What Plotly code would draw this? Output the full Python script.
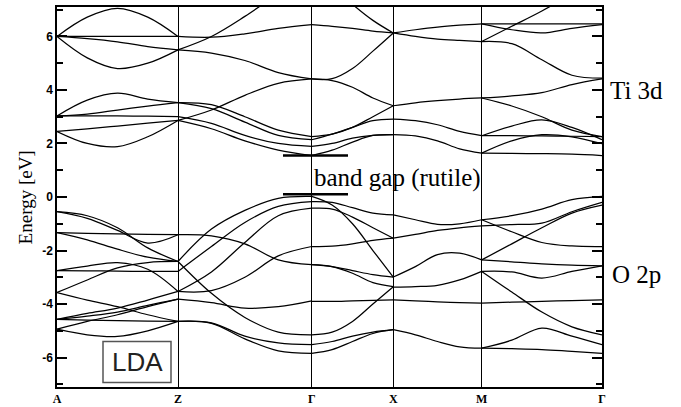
import plotly.graph_objects as go

# ---------------- data ----------------
k_labels = ["A", "Z", "Γ", "X", "M", "Γ"]
k_points = [0, 121, 254.7, 336.3, 424.7, 545]

y_tick_vals = [-6, -4, -2, 0, 2, 4, 6]
y_tick_text = ["-6", "-4", "-2", "0", "2", "4", "6"]

# energies (eV) sampled at equally spaced points along each path segment
bands_A_Z = [
    [6.0, 6.72, 7.05, 6.72, 6.0],
    [6.0, 6.0, 6.0, 6.0, 6.0],
    [6.0, 5.92, 5.8, 5.62, 5.5],
    [6.0, 5.2, 4.8, 5.0, 5.5],
    [3.03, 3.62, 3.88, 3.66, 3.53],
    [3.03, 3.1, 3.25, 3.4, 3.53],
    [3.03, 3.03, 3.03, 3.02, 3.0],
    [2.45, 2.55, 2.65, 2.76, 2.86],
    [2.45, 2.0, 1.88, 2.25, 2.86],
    [-0.55, -0.8, -1.25, -1.72, -1.41],
    [-0.55, -0.7, -1.15, -1.9, -2.41],
    [-1.33, -1.36, -1.38, -1.40, -1.41],
    [-1.33, -1.6, -1.95, -2.25, -2.41],
    [-2.75, -2.76, -2.77, -2.78, -2.78],
    [-2.75, -2.58, -2.45, -2.7, -3.53],
    [-3.57, -3.1, -2.65, -2.45, -2.41],
    [-3.57, -3.85, -4.1, -4.4, -4.65],
    [-4.57, -4.35, -4.15, -3.85, -3.53],
    [-4.57, -4.45, -4.3, -4.05, -3.82],
    [-4.94, -4.65, -4.4, -4.1, -3.82],
    [-4.94, -5.15, -5.21, -5.0, -4.65],
    [-4.57, -4.6, -4.62, -4.64, -4.65],
]

bands_Z_G = [
    [6.0, 5.97, 6.1, 6.3, 6.44],
    [5.5, 6.0, 6.75, 7.6, 8.4],
    [5.5, 5.38, 5.1, 4.65, 4.41],
    [2.86, 3.25, 3.8, 4.25, 4.41],
    [3.53, 3.45, 3.0, 2.5, 2.26],
    [3.53, 3.3, 2.8, 2.3, 2.14],
    [3.0, 2.75, 2.3, 2.0, 1.89],
    [2.86, 2.55, 2.1, 1.75, 1.55],
    [-1.41, -1.45, -1.75, -2.35, -2.53],
    [-2.41, -1.2, -0.5, -0.05, 0.02],
    [-2.78, -1.85, -0.95, -0.35, -0.17],
    [-3.53, -2.8, -1.7, -0.7, -0.42],
    [-3.53, -3.5, -3.0, -2.2, -1.85],
    [-2.41, -3.6, -4.5, -5.05, -5.15],
    [-3.82, -3.95, -4.15, -4.1, -3.88],
    [-4.65, -4.7, -5.2, -5.45, -5.52],
    [-4.65, -4.72, -5.3, -5.75, -5.84],
]

bands_G_X = [
    [6.44, 6.38, 6.3, 6.2, 6.13],
    [8.4, 7.9, 7.2, 6.6, 6.13],
    [4.41, 4.42, 4.8, 5.45, 6.13],
    [4.41, 4.35, 4.1, 3.7, 3.41],
    [2.26, 2.35, 2.6, 3.0, 3.41],
    [2.14, 2.35, 2.6, 2.85, 2.91],
    [1.89, 2.0, 2.2, 2.3, 2.33],
    [1.55, 1.75, 2.05, 2.3, 2.33],
    [0.02, -0.3, -1.0, -2.0, -2.99],
    [-0.17, -0.2, -0.4, -0.6, -0.67],
    [-0.42, -0.45, -0.75, -1.15, -1.54],
    [-1.85, -1.84, -1.75, -1.62, -1.54],
    [-2.53, -2.6, -2.85, -3.2, -3.35],
    [-2.53, -2.6, -2.75, -2.9, -2.99],
    [-3.9, -3.9, -3.88, -3.86, -3.84],
    [-5.15, -5.05, -4.65, -4.0, -3.35],
    [-5.52, -5.4, -5.2, -5.05, -4.96],
    [-5.84, -5.7, -5.4, -5.1, -4.96],
]

bands_X_M = [
    [6.13, 6.25, 6.35, 6.42, 6.47],
    [6.13, 6.0, 5.9, 5.85, 5.81],
    [3.41, 3.52, 3.6, 3.66, 3.7],
    [2.91, 2.85, 2.7, 2.45, 2.29],
    [2.33, 2.28, 2.1, 1.8, 1.64],
    [-0.67, -0.85, -1.02, -1.0, -0.85],
    [-1.54, -1.4, -1.25, -1.15, -1.08],
    [-2.99, -2.6, -2.15, -2.1, -2.35],
    [-3.37, -3.35, -3.3, -3.1, -2.78],
    [-3.84, -3.88, -3.92, -3.95, -3.97],
    [-4.96, -5.15, -5.4, -5.6, -5.65],
]

bands_M_G = [
    [6.47, 6.47, 6.47, 6.47, 6.47],
    [6.47, 6.25, 6.13, 6.3, 6.44],
    [5.81, 6.38, 6.95, 7.6, 8.3],
    [5.81, 5.73, 5.13, 4.55, 4.44],
    [3.7, 3.78, 3.9, 4.2, 4.41],
    [3.7, 3.4, 3.0, 2.5, 2.26],
    [2.29, 2.65, 2.88, 2.6, 2.14],
    [2.29, 2.29, 2.28, 2.27, 2.26],
    [1.64, 2.1, 2.33, 2.25, 1.99],
    [1.64, 1.63, 1.62, 1.6, 1.55],
    [-0.85, -0.7, -0.45, -0.1, 0.02],
    [-0.85, -1.3, -1.7, -1.83, -1.85],
    [-1.08, -1.03, -0.98, -0.55, -0.2],
    [-2.35, -1.75, -1.15, -0.6, -0.3],
    [-2.35, -2.42, -2.5, -2.55, -2.57],
    [-2.78, -2.8, -3.03, -2.78, -2.57],
    [-2.78, -3.55, -4.3, -4.85, -5.15],
    [-3.97, -3.93, -3.9, -3.87, -3.84],
    [-5.65, -5.35, -4.9, -5.2, -5.52],
    [-5.65, -5.67, -5.7, -5.77, -5.84],
]

segments = [bands_A_Z, bands_Z_G, bands_G_X, bands_X_M, bands_M_G]

gap_levels = [0.1, 1.55]        # eV, band-gap markers at Gamma
gap_bar_k = [226, 291]          # extent of the markers along k

# ---------------- figure ----------------
fig = go.Figure()

for i, bands in enumerate(segments):
    k0, k1 = k_points[i], k_points[i + 1]
    xs, ys = [], []
    for b in bands:
        n = len(b)
        xs += [k0 + (k1 - k0) * j / (n - 1) for j in range(n)] + [None]
        ys += list(b) + [None]
    fig.add_trace(go.Scatter(
        x=xs, y=ys, mode="lines",
        line=dict(color="black", width=1.25, shape="spline", smoothing=1.0),
        hoverinfo="skip", showlegend=False))

gx, gy = [], []
for lvl in gap_levels:
    gx += [gap_bar_k[0], gap_bar_k[1], None]
    gy += [lvl, lvl, None]
fig.add_trace(go.Scatter(x=gx, y=gy, mode="lines",
                         line=dict(color="black", width=2.5),
                         hoverinfo="skip", showlegend=False))

serif = "Liberation Serif"
sans = "Liberation Sans"

fig.update_layout(
    width=681, height=407,
    margin=dict(l=57, r=79, t=7, b=20, autoexpand=False),
    paper_bgcolor="white", plot_bgcolor="white",
    showlegend=False,
    xaxis=dict(
        range=[k_points[0], k_points[-1]],
        tickmode="array", tickvals=k_points, ticktext=k_labels,
        ticks="", showgrid=True, gridcolor="black", gridwidth=1,
        showline=True, linecolor="black", linewidth=1.5, mirror=True,
        zeroline=False, automargin=False, ticklabelstandoff=0,
        tickfont=dict(family=serif, size=12, color="black", weight="bold"),
    ),
    yaxis=dict(
        range=[-7.1, 7.1], automargin=False,
        tickmode="array", tickvals=y_tick_vals, ticktext=y_tick_text,
        ticks="inside", ticklen=10, tickwidth=1.5, tickcolor="black",
        minor=dict(dtick=1, tick0=0, ticks="inside", ticklen=6,
                   tickwidth=1.5, tickcolor="black"),
        showgrid=False, zeroline=False,
        showline=True, linecolor="black", linewidth=1.5, mirror="allticks",
        tickfont=dict(family=sans, size=12, color="black", weight="bold"),
    ),
)

fig.add_annotation(text="Energy [eV]", xref="paper", yref="paper",
                   x=-0.058, y=0.5, xanchor="center", yanchor="middle",
                   textangle=-90, showarrow=False,
                   font=dict(family=serif, size=19, color="black"))
fig.add_annotation(text="band gap (rutile)", xref="x", yref="y",
                   x=340.5, y=0.72, xanchor="center", yanchor="middle",
                   showarrow=False, font=dict(family=serif, size=25, color="black"))
fig.add_annotation(text="Ti 3d", xref="paper", yref="y",
                   x=1.011, y=3.97, xanchor="left", yanchor="middle",
                   showarrow=False, font=dict(family=serif, size=25, color="black"))
fig.add_annotation(text="O 2p", xref="paper", yref="y",
                   x=1.015, y=-2.91, xanchor="left", yanchor="middle",
                   showarrow=False, font=dict(family=serif, size=25, color="black"))

fig.add_shape(type="rect", xref="x", yref="y", x0=46, x1=114, y0=-6.93, y1=-5.40,
              line=dict(color="#555555", width=1.5), fillcolor="white")
fig.add_annotation(text="LDA", xref="x", yref="y", x=80, y=-6.17,
                   xanchor="center", yanchor="middle", showarrow=False,
                   font=dict(family=sans, size=26, color="#222222"))

fig.write_html("out.html", config={"displayModeBar": False},
               post_script="document.body.style.margin='0';")
